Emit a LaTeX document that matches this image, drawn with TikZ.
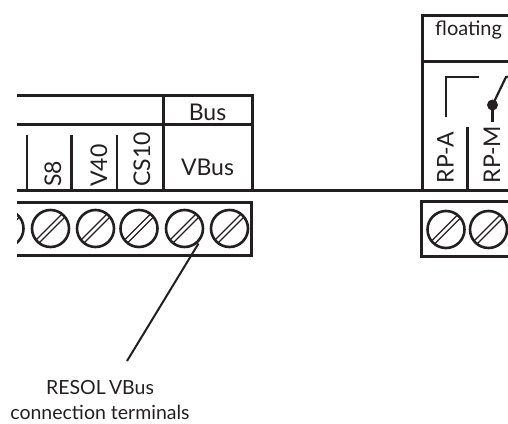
\documentclass[tikz,border=0pt]{standalone}
\usepackage{fontspec}
\setmainfont{Lato}
\definecolor{ink}{HTML}{231F20}
\tikzset{
  wire/.style={draw=ink,line width=3pt},
  thinwire/.style={draw=ink,line width=2.6pt},
  relayline/.style={draw=ink,line width=2.2pt},
  screw/.style={circle,draw=ink,line width=2.6pt,minimum size=37pt,inner sep=0pt},
  slot/.style={draw=ink,line width=1.3pt},
  lbl/.style={text=ink,inner sep=0pt,font=\fontsize{23}{26}\selectfont},
  vlbl/.style={lbl,rotate=90,anchor=west},
  captext/.style={text=ink,inner sep=0pt,font=\fontsize{19.5}{25}\selectfont,align=center}
}
\newcommand{\screwat}[3]{%
  \node[screw] (#1) at (#2,#3) {};
  \draw[slot] (#2-14,#3+11) -- (#2+11,#3-14);
  \draw[slot] (#2-11,#3+14) -- (#2+14,#3-11);
}
\begin{document}
\begin{tikzpicture}[x=1pt,y=-1pt]
\useasboundingbox (0,0) rectangle (508,423);
\begin{scope}
\clip (17,0) rectangle (508,423);
% left table
\draw[wire] (17,95.5) -- (252.5,95.5) -- (252.5,190.5);
\draw[wire] (17,124) -- (252.5,124);
\draw[wire] (163,95.5) -- (163,190.5);
\draw[wire] (17,190.5) -- (508,190.5);
\foreach \x in {27,71.5,117} \draw[thinwire] (\x,135) -- (\x,190.5);
% left terminals
\draw[wire] (17,202) -- (251.5,202) -- (251.5,255) -- (17,255);
\screwat{s0}{5}{228.5}
\screwat{s1}{50.5}{228.5}
\screwat{s2}{95.5}{228.5}
\screwat{s3}{139}{228.5}
\screwat{s4}{184.5}{228.5}
\screwat{s5}{229.5}{228.5}
% right table
\draw[wire] (508,15) -- (422,15) -- (422,190.5);
\draw[wire] (422,61) -- (508,61);
\draw[thinwire] (467.5,127) -- (467.5,190.5);
\draw[wire] (508,201.5) -- (421.5,201.5) -- (421.5,256) -- (508,256);
\screwat{s6}{446}{229.5}
\screwat{s7}{488.5}{229.5}
% relay
\draw[relayline] (446,117) -- (446,77) -- (478.5,77);
\node[circle,fill=ink,minimum size=11pt,inner sep=0pt] (dot) at (492.5,105) {};
\coordinate (contactTop) at (506,77);
\coordinate (contactEnd) at (508,77);
\coordinate (pin) at (492.5,122);
\draw[relayline] (dot.center) -- (contactTop) -- (contactEnd);
\draw[relayline] (dot.center) -- (pin);
% labels
\node[lbl] (bus) at (207.5,112) {Bus};
\node[lbl] (vbus) at (207.5,167.5) {VBus};
\node[lbl,anchor=base west,font=\fontsize{20}{24}\selectfont] (floating) at (435,35.5) {floating};
\node[vlbl] (s8) at (53,187) {S8};
\node[vlbl] (v40) at (99,187) {V40};
\node[vlbl] (cs10) at (142,187) {CS10};
\node[vlbl] (rpa) at (445.5,183.5) {RP-A};
\node[vlbl] (rpm) at (492,183.5) {RP-M};
\end{scope}
% callout
\coordinate (calloutEnd) at (127,361);
\draw[line width=2pt,draw=ink] (s4) ++(14,15) -- (calloutEnd);
\node[captext] (caption) at (100,400) {RESOL\,VBus\\connection terminals};
\end{tikzpicture}
\end{document}
